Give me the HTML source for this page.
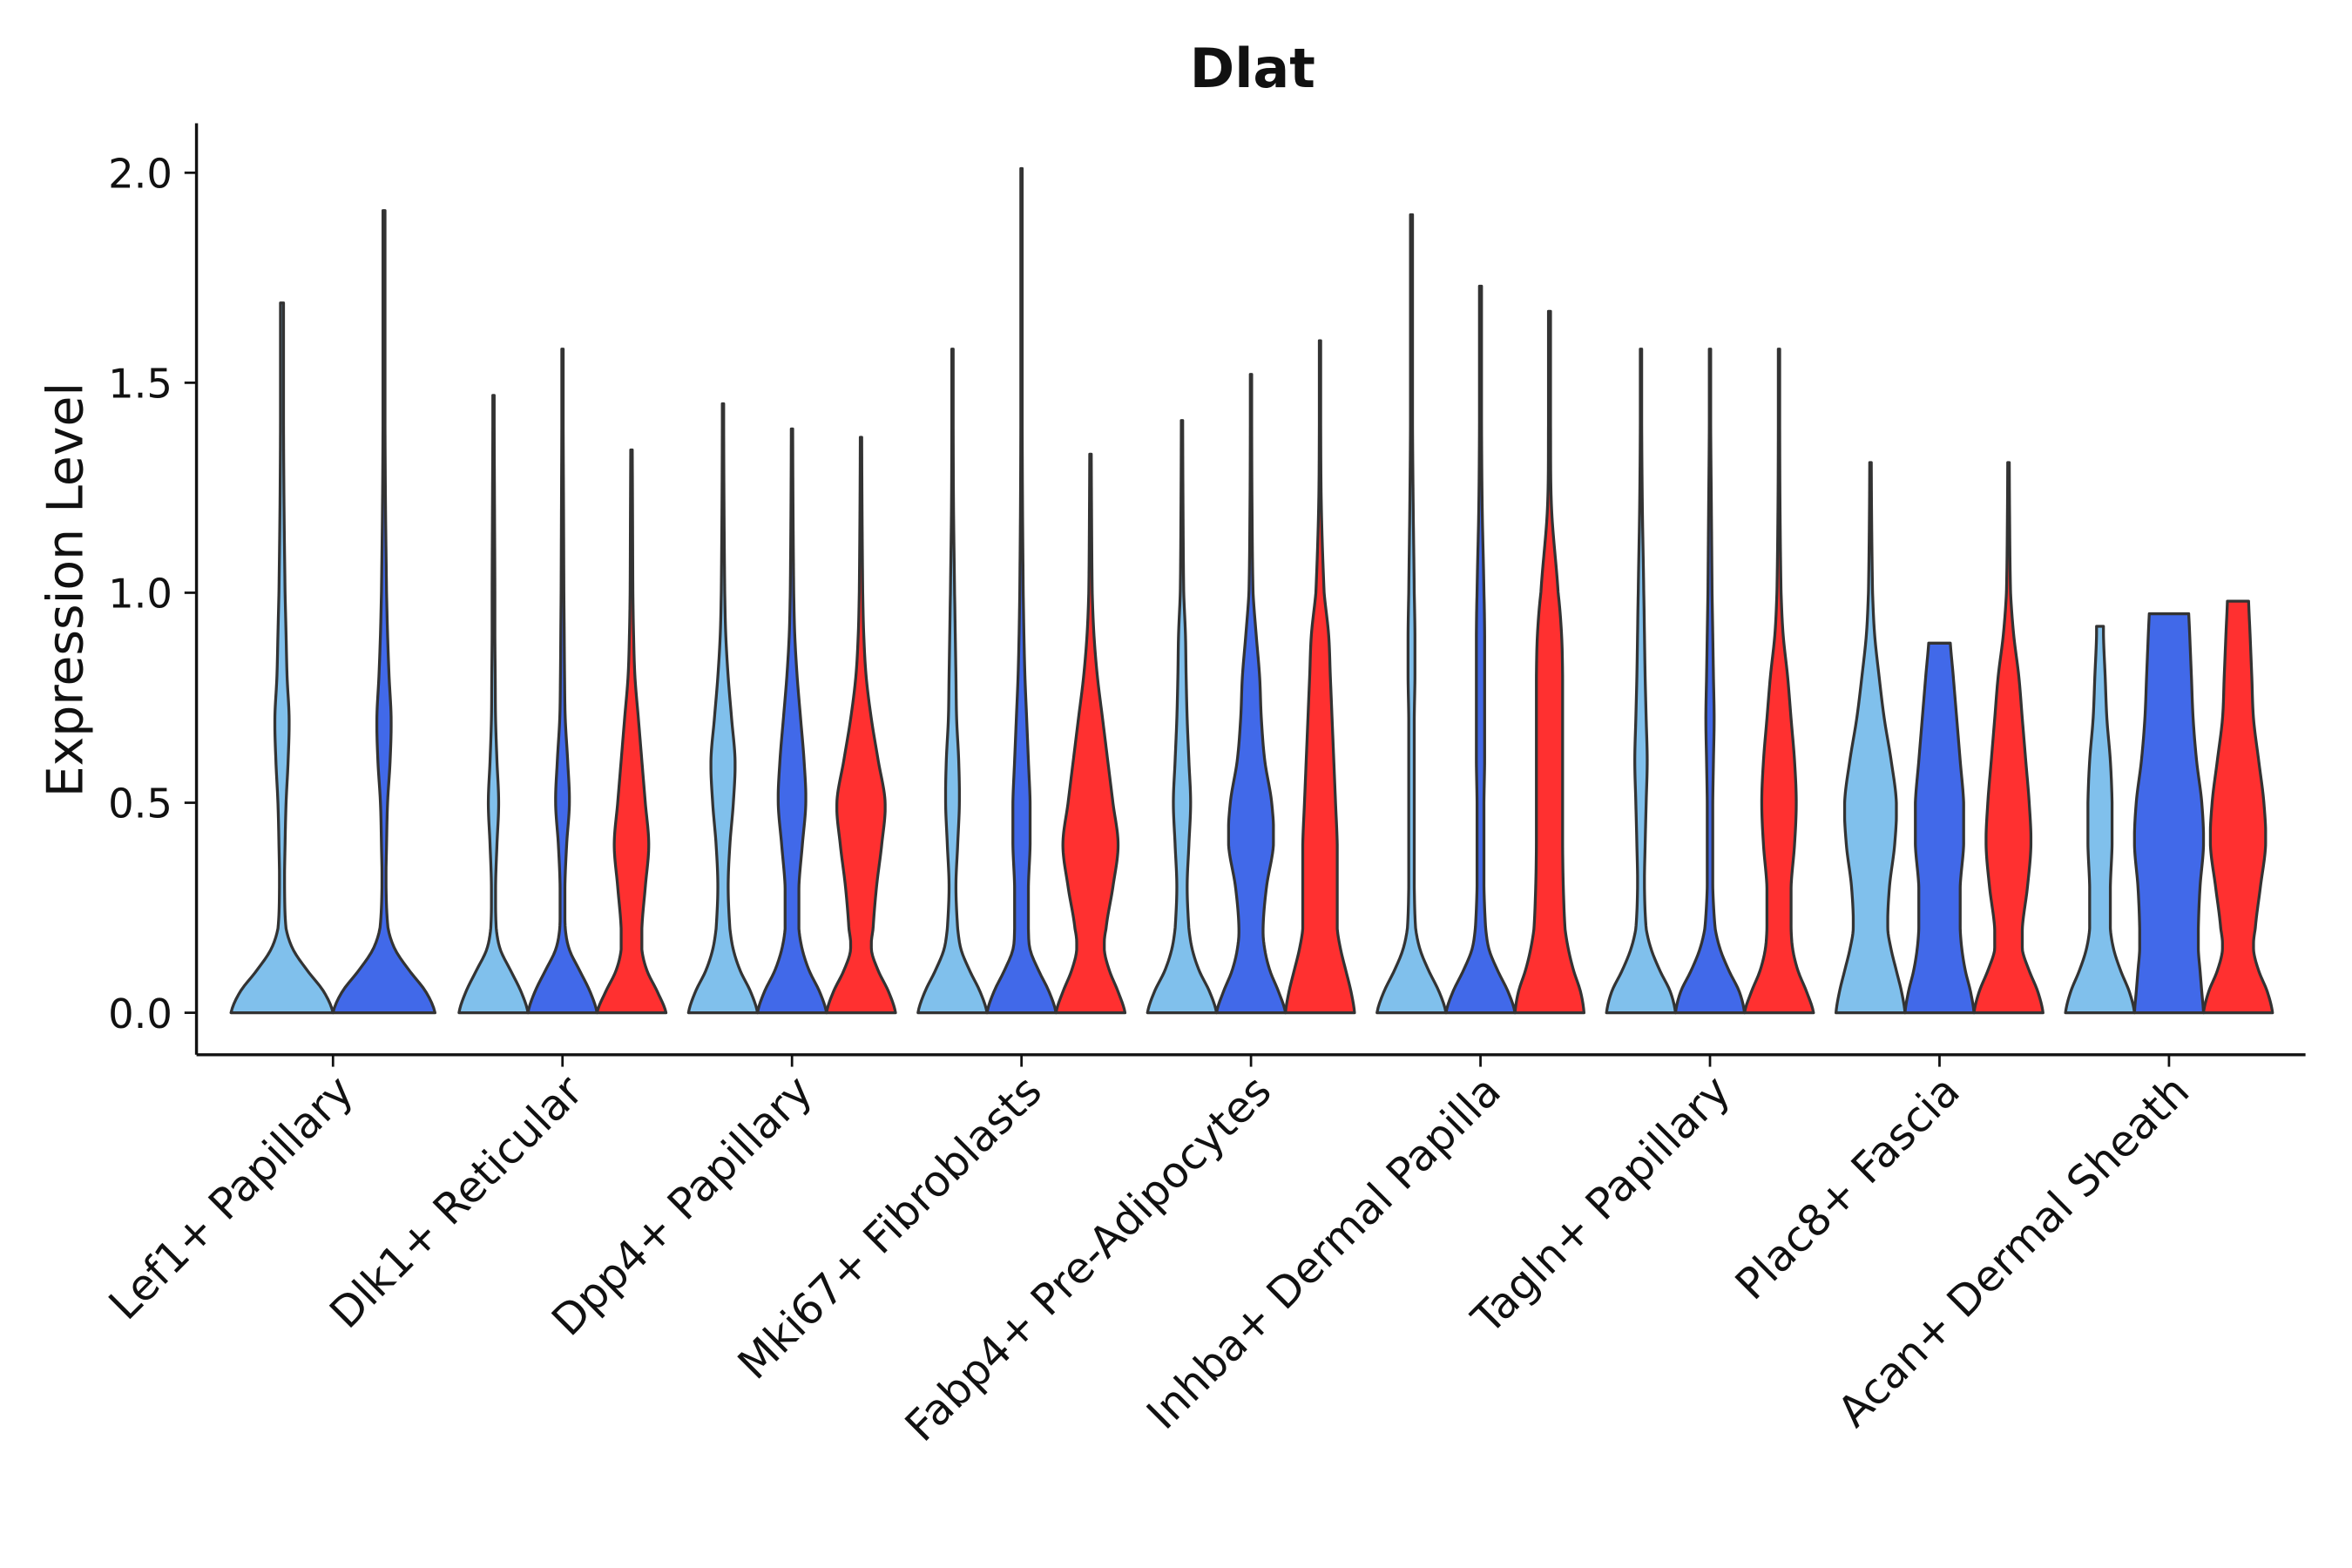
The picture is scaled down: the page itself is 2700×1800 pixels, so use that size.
<!DOCTYPE html>
<html><head><meta charset="utf-8"><style>html,body{margin:0;padding:0;background:#fff}svg{display:block}</style></head>
<body>
<svg id="chart" width="2700" height="1800" viewBox="0 0 1568 1045" xmlns="http://www.w3.org/2000/svg" font-family="'DejaVu Sans','Liberation Sans',sans-serif">
<rect width="1568" height="1045" fill="#fff"/>
<text x="835" y="58" text-anchor="middle" font-size="36" font-weight="bold" fill="#111">Dlat</text>
<text transform="translate(55,393) rotate(-90)" text-anchor="middle" font-size="33" fill="#111">Expression Level</text>
<g id="plot"></g>
</svg>
<script>
const categories = ["Lef1+ Papillary","Dlk1+ Reticular","Dpp4+ Papillary","Mki67+ Fibroblasts","Fabp4+ Pre-Adipocytes","Inhba+ Dermal Papilla","Tagln+ Papillary","Plac8+ Fascia","Acan+ Dermal Sheath"];
const yTicks = [0, 0.5, 1.0, 1.5, 2.0];
const yTickLabels = ["0.0","0.5","1.0","1.5","2.0"];
const densityLevels = [0,0.05,0.1,0.15,0.2,0.3,0.4,0.5,0.6,0.7,0.8,0.9,1.0,1.2,1.4];
const seriesColors = ["#80C0EC","#4169E9","#FF3030"];
// per-category: [light, blue, red] maxima (null = absent)
const violinMax = [
 [1.69,1.91,null],[1.47,1.58,1.34],[1.45,1.39,1.37],[1.58,2.01,1.33],[1.41,1.52,1.60],
 [1.90,1.73,1.67],[1.58,1.58,1.58],[1.31,0.88,1.31],[0.92,0.95,0.98]];
const violinDensity = [
 [[1,.82,.5,.22,.08,.05,.06,.08,.12,.14,.1,.08,.06,.04,.03],[1,.82,.5,.22,.08,.04,.05,.07,.12,.14,.1,.07,.05,.03,.02],null],
 [[1,.8,.5,.2,.08,.06,.1,.15,.1,.06,.05,.04,.04,.03,.02],[1,.8,.5,.2,.08,.07,.12,.2,.15,.08,.06,.05,.04,.03,.02],[1,.75,.45,.3,.3,.4,.5,.4,.3,.2,.1,.06,.04,.03,.02]],
 [[1,.8,.5,.3,.2,.15,.2,.3,.35,.25,.15,.08,.05,.03,.02],[1,.8,.5,.3,.2,.2,.3,.4,.35,.25,.15,.08,.05,.03,.02],[1,.8,.5,.3,.35,.45,.6,.7,.5,.3,.15,.08,.05,.03,.02]],
 [[1,.8,.5,.25,.15,.1,.15,.2,.18,.12,.1,.08,.06,.03,.02],[1,.8,.5,.25,.2,.2,.25,.25,.2,.15,.1,.07,.05,.03,.02],[1,.8,.55,.4,.45,.65,.8,.65,.5,.35,.2,.1,.05,.03,.02]],
 [[1,.8,.5,.3,.2,.15,.2,.25,.2,.15,.12,.1,.05,.03,.02],[1,.8,.55,.4,.35,.45,.65,.6,.4,.3,.25,.15,.06,.03,.02],[1,.9,.75,.6,.5,.5,.5,.45,.4,.35,.3,.25,.12,.04,.02]],
 [[1,.8,.5,.25,.12,.08,.08,.08,.08,.08,.1,.1,.08,.05,.03],[1,.8,.5,.25,.15,.1,.1,.1,.12,.12,.12,.12,.1,.05,.03],[1,.9,.7,.55,.45,.4,.38,.38,.38,.38,.38,.35,.25,.06,.03]],
 [[1,.85,.55,.3,.15,.1,.12,.15,.18,.15,.12,.1,.08,.04,.02],[1,.85,.55,.3,.15,.08,.08,.08,.1,.12,.1,.08,.06,.04,.02],[1,.8,.55,.4,.35,.35,.45,.5,.45,.35,.25,.12,.06,.03,.02]],
 [[1,.9,.75,.6,.5,.55,.7,.75,.6,.4,.25,.12,.06,.03,.02],[1,.9,.75,.65,.6,.6,.7,.7,.6,.5,.4,.3,.3,.3,.3],[1,.85,.6,.4,.4,.55,.65,.6,.5,.4,.3,.15,.06,.03,.02]],
 [[1,.85,.6,.4,.3,.3,.35,.35,.3,.2,.15,.1,.1,.1,.1],[1,.95,.9,.85,.85,.9,1,.95,.8,.7,.65,.6,.55,.55,.55],[1,.85,.6,.45,.5,.65,.8,.75,.6,.45,.4,.35,.3,.3,.3]]];

const NS="http://www.w3.org/2000/svg";
const plot=document.getElementById('plot');
const X0=131,X1=1537,Ytop=82,Ybot=703;
const yScale=v=>675-v*280;
const xCenter=i=>222+i*153;
function mk(tag,attrs,parent){const e=document.createElementNS(NS,tag);for(const k in attrs)e.setAttribute(k,attrs[k]);(parent||plot).appendChild(e);return e;}
function dens(arr,v){
  const L=densityLevels,n=L.length;
  for(let i=0;i<n-1;i++){
    if(v<=L[i+1]){
      const t=(v-L[i])/(L[i+1]-L[i]);
      const p0=arr[Math.max(i-1,0)],p1=arr[i],p2=arr[i+1],p3=arr[Math.min(i+2,n-1)];
      const t2=t*t,t3=t2*t;
      const r=0.5*((2*p1)+(-p0+p2)*t+(2*p0-5*p1+4*p2-p3)*t2+(-p0+3*p1-3*p2+p3)*t3);
      return Math.max(Math.min(r,Math.max(p1,p2)),Math.min(p1,p2));
    }
  }
  return arr[n-1];
}
categories.forEach((cat,ci)=>{
  const present=[0,1,2].filter(s=>violinMax[ci][s]!==null);
  const n=present.length;
  const half=n===2?34:23;
  const step=n===2?68:46;
  present.forEach((s,k)=>{
    const cx=xCenter(ci)+(k-(n-1)/2)*step;
    const mx=violinMax[ci][s], d=violinDensity[ci][s];
    const N=160, right=[], left=[];
    for(let j=0;j<=N;j++){const v=mx*j/N;const w=Math.max(dens(d,v),0.015)*half;right.push([cx+w,yScale(v)]);left.unshift([cx-w,yScale(v)]);}
    const pts=right.concat(left).map(p=>p[0].toFixed(2)+','+p[1].toFixed(2)).join(' ');
    const el=mk('polygon',{points:pts,fill:seriesColors[s],stroke:'#333',"stroke-width":1.9,"stroke-linejoin":"round"});
    
    
  });
  const t=mk('line',{x1:xCenter(ci),x2:xCenter(ci),y1:Ybot,y2:Ybot+8,stroke:'#111',"stroke-width":1.6});
  
  
  const lab=mk('text',{transform:`translate(${xCenter(ci)+15},${Ybot+26}) rotate(-45)`,"text-anchor":"end","font-size":28.5,fill:'#111'});
  lab.textContent=cat;
  
  
});
yTicks.forEach((v,i)=>{
  const t=mk('line',{x1:X0-8,x2:X0,y1:yScale(v),y2:yScale(v),stroke:'#111',"stroke-width":1.6});
  
  
  const l=mk('text',{x:X0-16,y:yScale(v)+10,"text-anchor":"end","font-size":27,fill:'#111'});
  l.textContent=yTickLabels[i];
  
  
});
const ya=mk('line',{x1:X0,x2:X0,y1:Ytop,y2:Ybot,stroke:'#111',"stroke-width":2});


const xa=mk('line',{x1:X0,x2:X1,y1:Ybot,y2:Ybot,stroke:'#111',"stroke-width":2});


</script>
</body></html>
